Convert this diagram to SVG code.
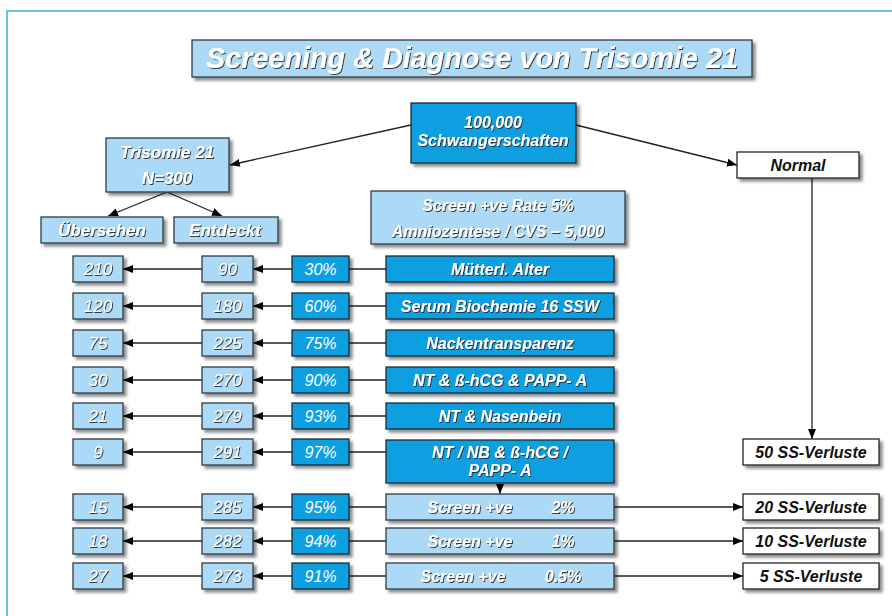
<svg xmlns="http://www.w3.org/2000/svg" width="892" height="616" viewBox="0 0 892 616">
<style>
.lb{fill:#acd9f5;stroke:#2f3a44;stroke-width:1.3}
.db{fill:#0c9fe0;stroke:#1d2a33;stroke-width:1.3}
.wb{fill:#ffffff;stroke:#222;stroke-width:1.3}
text{font-family:"Liberation Sans",Arial,sans-serif;font-style:italic;text-anchor:middle}
.tw{fill:#fff;font-weight:bold;font-size:16px}
.tn{fill:#fff;font-size:17px}
.tp{fill:#fff;font-size:16px}
.tk{fill:#111;font-weight:bold;font-size:16px}
.ln{stroke:#222;stroke-width:1.3;fill:none}
</style>
<defs>
<filter id="bs" x="-10%" y="-20%" width="130%" height="160%"><feDropShadow dx="3" dy="3" stdDeviation="1.5" flood-color="#000" flood-opacity="0.45"/></filter>
<filter id="ts" x="-10%" y="-30%" width="130%" height="180%"><feDropShadow dx="1" dy="1" stdDeviation="0.6" flood-color="#2a2a2a" flood-opacity="0.9"/></filter>
<marker id="ah" viewBox="0 0 10 8" refX="10" refY="4" markerWidth="10" markerHeight="8" orient="auto" markerUnits="userSpaceOnUse"><path d="M0,0 L10,4 L0,8 z" fill="#000"/></marker>
</defs>
<rect x="0" y="0" width="892" height="616" fill="#fff"/>
<rect x="7" y="11" width="900" height="620" fill="none" stroke="#39ade3" stroke-width="1.5"/>

<g id="connectors">
<line class="ln" x1="411" y1="125" x2="230" y2="165" marker-end="url(#ah)"/>
<line class="ln" x1="576" y1="125" x2="737" y2="165" marker-end="url(#ah)"/>
<line class="ln" x1="167" y1="192" x2="108" y2="216" marker-end="url(#ah)"/>
<line class="ln" x1="167" y1="192" x2="222" y2="216" marker-end="url(#ah)"/>
<line class="ln" x1="812" y1="178" x2="812" y2="439" marker-end="url(#ah)"/>
<line class="ln" x1="500" y1="483" x2="500" y2="494" marker-end="url(#ah)"/>
<g>
<line class="ln" x1="386" y1="269" x2="349" y2="269"/><line class="ln" x1="292" y1="269" x2="253" y2="269" marker-end="url(#ah)"/><line class="ln" x1="202" y1="269" x2="123" y2="269" marker-end="url(#ah)"/>
<line class="ln" x1="386" y1="306" x2="349" y2="306"/><line class="ln" x1="292" y1="306" x2="253" y2="306" marker-end="url(#ah)"/><line class="ln" x1="202" y1="306" x2="123" y2="306" marker-end="url(#ah)"/>
<line class="ln" x1="386" y1="343" x2="349" y2="343"/><line class="ln" x1="292" y1="343" x2="253" y2="343" marker-end="url(#ah)"/><line class="ln" x1="202" y1="343" x2="123" y2="343" marker-end="url(#ah)"/>
<line class="ln" x1="386" y1="380" x2="349" y2="380"/><line class="ln" x1="292" y1="380" x2="253" y2="380" marker-end="url(#ah)"/><line class="ln" x1="202" y1="380" x2="123" y2="380" marker-end="url(#ah)"/>
<line class="ln" x1="386" y1="416" x2="349" y2="416"/><line class="ln" x1="292" y1="416" x2="253" y2="416" marker-end="url(#ah)"/><line class="ln" x1="202" y1="416" x2="123" y2="416" marker-end="url(#ah)"/>
<line class="ln" x1="386" y1="452" x2="349" y2="452"/><line class="ln" x1="292" y1="452" x2="253" y2="452" marker-end="url(#ah)"/><line class="ln" x1="202" y1="452" x2="123" y2="452" marker-end="url(#ah)"/>
<line class="ln" x1="386" y1="507" x2="349" y2="507"/><line class="ln" x1="292" y1="507" x2="253" y2="507" marker-end="url(#ah)"/><line class="ln" x1="202" y1="507" x2="123" y2="507" marker-end="url(#ah)"/>
<line class="ln" x1="386" y1="541" x2="349" y2="541"/><line class="ln" x1="292" y1="541" x2="253" y2="541" marker-end="url(#ah)"/><line class="ln" x1="202" y1="541" x2="123" y2="541" marker-end="url(#ah)"/>
<line class="ln" x1="386" y1="576" x2="349" y2="576"/><line class="ln" x1="292" y1="576" x2="253" y2="576" marker-end="url(#ah)"/><line class="ln" x1="202" y1="576" x2="123" y2="576" marker-end="url(#ah)"/>
<line class="ln" x1="614" y1="507" x2="743" y2="507" marker-end="url(#ah)"/>
<line class="ln" x1="614" y1="541" x2="743" y2="541" marker-end="url(#ah)"/>
<line class="ln" x1="614" y1="576" x2="743" y2="576" marker-end="url(#ah)"/>
</g>
</g>

<g id="title"><rect class="lb" x="192" y="40" width="560" height="37" filter="url(#bs)"/><text class="tw" x="472" y="68" textLength="532" lengthAdjust="spacingAndGlyphs" filter="url(#ts)" style="font-size:30px">Screening &amp; Diagnose von Trisomie 21</text></g>

<g id="n100000"><rect class="db" x="411" y="103" width="165" height="60" filter="url(#bs)"/><text class="tw" x="493" y="128" filter="url(#ts)">100,000</text><text class="tw" x="493" y="146" filter="url(#ts)">Schwangerschaften</text></g>
<g id="trisomie"><rect class="lb" x="106" y="138" width="123" height="54" filter="url(#bs)"/><text class="tw" x="167" y="158" style="font-size:17px" filter="url(#ts)">Trisomie 21</text><text class="tw" x="167" y="184" style="font-size:17px" filter="url(#ts)">N=300</text></g>
<g id="normal"><rect class="wb" x="737" y="152" width="122" height="26" filter="url(#bs)"/><text class="tk" x="798" y="171">Normal</text></g>
<g id="uebersehen"><rect class="lb" x="41" y="217" width="122" height="26" filter="url(#bs)"/><text class="tw" x="102" y="236" style="font-size:17px" filter="url(#ts)">Übersehen</text></g>
<g id="entdeckt"><rect class="lb" x="174" y="217" width="104" height="26" filter="url(#bs)"/><text class="tw" x="225" y="236" style="font-size:17px" filter="url(#ts)">Entdeckt</text></g>
<g id="screenrate"><rect class="lb" x="371" y="191" width="254" height="53" filter="url(#bs)"/><text class="tw" x="498" y="211" filter="url(#ts)">Screen +ve Rate 5%</text><text class="tw" x="498" y="237" filter="url(#ts)">Amniozentese / CVS – 5,000</text></g>

<g id="row1"><rect class="lb" x="73" y="256" width="50" height="26" filter="url(#bs)"/><text class="tn" x="98" y="275" filter="url(#ts)">210</text><rect class="lb" x="202" y="256" width="51" height="26" filter="url(#bs)"/><text class="tn" x="227.5" y="275" filter="url(#ts)">90</text><rect class="db" x="292" y="256" width="57" height="26" filter="url(#bs)"/><text class="tp" x="320.5" y="275">30%</text><rect class="db" x="386" y="256" width="228" height="26" filter="url(#bs)"/><text class="tw" x="500" y="275" filter="url(#ts)">Mütterl. Alter</text></g>
<g id="row2"><rect class="lb" x="73" y="293" width="50" height="26" filter="url(#bs)"/><text class="tn" x="98" y="312" filter="url(#ts)">120</text><rect class="lb" x="202" y="293" width="51" height="26" filter="url(#bs)"/><text class="tn" x="227.5" y="312" filter="url(#ts)">180</text><rect class="db" x="292" y="293" width="57" height="26" filter="url(#bs)"/><text class="tp" x="320.5" y="312">60%</text><rect class="db" x="386" y="293" width="228" height="26" filter="url(#bs)"/><text class="tw" x="500" y="312" filter="url(#ts)">Serum Biochemie 16 SSW</text></g>
<g id="row3"><rect class="lb" x="73" y="330" width="50" height="26" filter="url(#bs)"/><text class="tn" x="98" y="349" filter="url(#ts)">75</text><rect class="lb" x="202" y="330" width="51" height="26" filter="url(#bs)"/><text class="tn" x="227.5" y="349" filter="url(#ts)">225</text><rect class="db" x="292" y="330" width="57" height="26" filter="url(#bs)"/><text class="tp" x="320.5" y="349">75%</text><rect class="db" x="386" y="330" width="228" height="26" filter="url(#bs)"/><text class="tw" x="500" y="349" filter="url(#ts)">Nackentransparenz</text></g>
<g id="row4"><rect class="lb" x="73" y="367" width="50" height="26" filter="url(#bs)"/><text class="tn" x="98" y="386" filter="url(#ts)">30</text><rect class="lb" x="202" y="367" width="51" height="26" filter="url(#bs)"/><text class="tn" x="227.5" y="386" filter="url(#ts)">270</text><rect class="db" x="292" y="367" width="57" height="26" filter="url(#bs)"/><text class="tp" x="320.5" y="386">90%</text><rect class="db" x="386" y="367" width="228" height="26" filter="url(#bs)"/><text class="tw" x="500" y="386" filter="url(#ts)">NT &amp; ß-hCG &amp; PAPP- A</text></g>
<g id="row5"><rect class="lb" x="73" y="403" width="50" height="26" filter="url(#bs)"/><text class="tn" x="98" y="422" filter="url(#ts)">21</text><rect class="lb" x="202" y="403" width="51" height="26" filter="url(#bs)"/><text class="tn" x="227.5" y="422" filter="url(#ts)">279</text><rect class="db" x="292" y="403" width="57" height="26" filter="url(#bs)"/><text class="tp" x="320.5" y="422">93%</text><rect class="db" x="386" y="403" width="228" height="26" filter="url(#bs)"/><text class="tw" x="500" y="422" filter="url(#ts)">NT &amp; Nasenbein</text></g>
<g id="row6"><rect class="lb" x="73" y="439" width="50" height="26" filter="url(#bs)"/><text class="tn" x="98" y="458" filter="url(#ts)">9</text><rect class="lb" x="202" y="439" width="51" height="26" filter="url(#bs)"/><text class="tn" x="227.5" y="458" filter="url(#ts)">291</text><rect class="db" x="292" y="439" width="57" height="26" filter="url(#bs)"/><text class="tp" x="320.5" y="458">97%</text><rect class="db" x="386" y="440" width="228" height="43" filter="url(#bs)"/><text class="tw" x="500" y="458" filter="url(#ts)">NT / NB &amp; ß-hCG /</text><text class="tw" x="500" y="476" filter="url(#ts)">PAPP- A</text></g>
<g id="row7"><rect class="lb" x="73" y="494" width="50" height="26" filter="url(#bs)"/><text class="tn" x="98" y="513" filter="url(#ts)">15</text><rect class="lb" x="202" y="494" width="51" height="26" filter="url(#bs)"/><text class="tn" x="227.5" y="513" filter="url(#ts)">285</text><rect class="db" x="292" y="494" width="57" height="26" filter="url(#bs)"/><text class="tp" x="320.5" y="513">95%</text><rect class="lb" x="386" y="494" width="228" height="26" filter="url(#bs)"/><text class="tw" x="470" y="513" filter="url(#ts)">Screen +ve</text><text class="tw" x="563" y="513" filter="url(#ts)">2%</text></g>
<g id="row8"><rect class="lb" x="73" y="528" width="50" height="26" filter="url(#bs)"/><text class="tn" x="98" y="547" filter="url(#ts)">18</text><rect class="lb" x="202" y="528" width="51" height="26" filter="url(#bs)"/><text class="tn" x="227.5" y="547" filter="url(#ts)">282</text><rect class="db" x="292" y="528" width="57" height="26" filter="url(#bs)"/><text class="tp" x="320.5" y="547">94%</text><rect class="lb" x="386" y="528" width="228" height="26" filter="url(#bs)"/><text class="tw" x="470" y="547" filter="url(#ts)">Screen +ve</text><text class="tw" x="563" y="547" filter="url(#ts)">1%</text></g>
<g id="row9"><rect class="lb" x="73" y="563" width="50" height="26" filter="url(#bs)"/><text class="tn" x="98" y="582" filter="url(#ts)">27</text><rect class="lb" x="202" y="563" width="51" height="26" filter="url(#bs)"/><text class="tn" x="227.5" y="582" filter="url(#ts)">273</text><rect class="db" x="292" y="563" width="57" height="26" filter="url(#bs)"/><text class="tp" x="320.5" y="582">91%</text><rect class="lb" x="386" y="563" width="228" height="26" filter="url(#bs)"/><text class="tw" x="463" y="582" filter="url(#ts)">Screen +ve</text><text class="tw" x="563" y="582" filter="url(#ts)">0.5%</text></g>

<g id="loss50"><rect class="wb" x="743" y="439" width="136" height="26" filter="url(#bs)"/><text class="tk" x="811" y="458">50 SS-Verluste</text></g>
<g id="loss20"><rect class="wb" x="743" y="494" width="136" height="26" filter="url(#bs)"/><text class="tk" x="811" y="513">20 SS-Verluste</text></g>
<g id="loss10"><rect class="wb" x="743" y="528" width="136" height="26" filter="url(#bs)"/><text class="tk" x="811" y="547">10 SS-Verluste</text></g>
<g id="loss5"><rect class="wb" x="743" y="563" width="136" height="26" filter="url(#bs)"/><text class="tk" x="811" y="582">5 SS-Verluste</text></g>
</svg>
